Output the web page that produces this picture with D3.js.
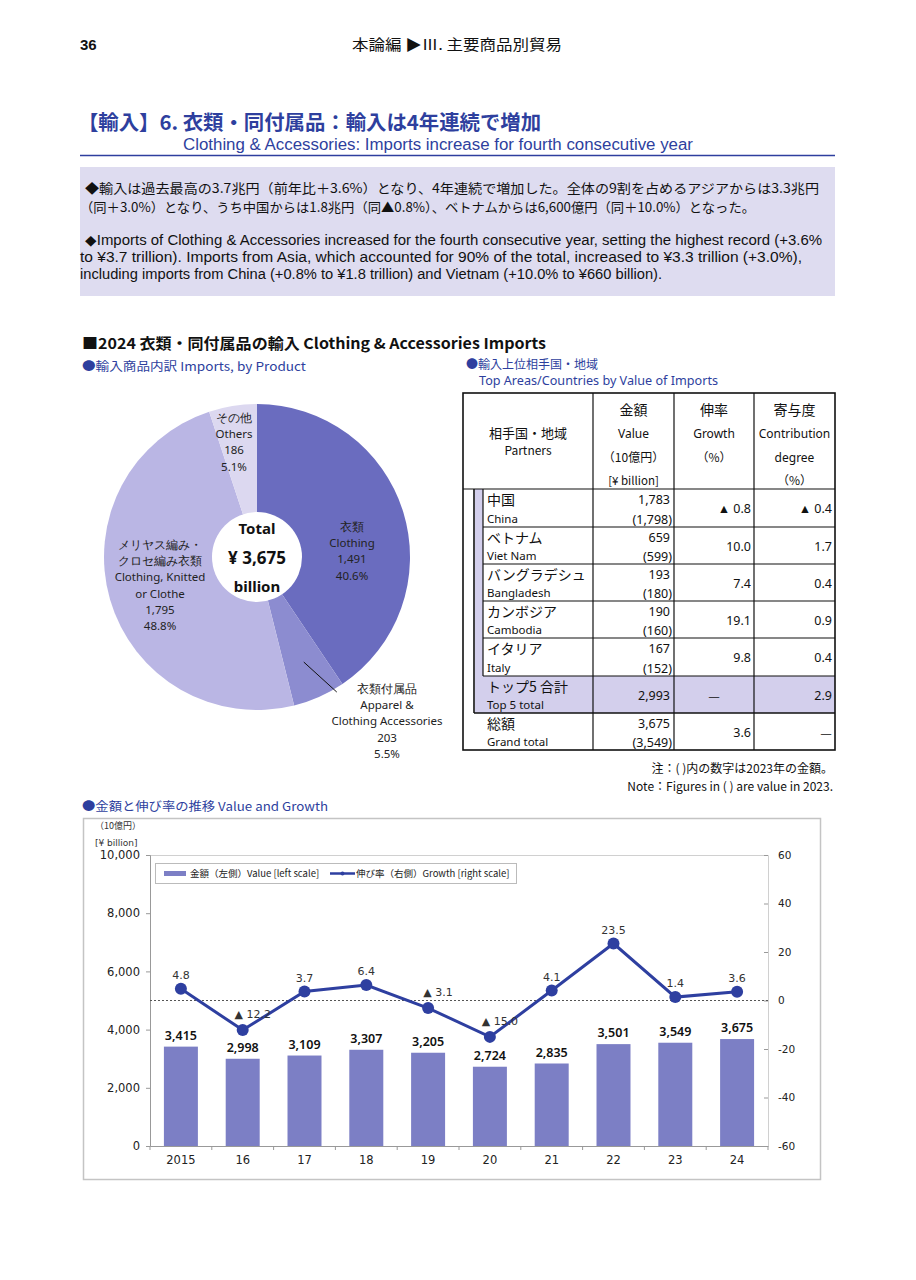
<!DOCTYPE html>
<html>
<head>
<meta charset="utf-8">
<script src="https://cdn.jsdelivr.net/npm/d3@7"></script>
<style>
  body { margin: 0; background: #fff; }
  svg text { font-family: "Noto Sans CJK JP", "Noto Sans", sans-serif; }
</style>
</head>
<body>
<svg id="page" width="916" height="1280"></svg>
<script>
// ---- data ----
const pieLabels = [
    ['衣類', 'Clothing'],
    ['衣類付属品', 'Apparel &', 'Clothing Accessories'],
    ['メリヤス編み・', 'クロセ編み衣類', 'Clothing, Knitted', 'or Clothe'],
    ['その他', 'Others']
];
const pieValues = [1491, 203, 1795, 186];
const pieShares = ['40.6%', '5.5%', '48.8%', '5.1%'];
const pieTotal = '3,675';

const partnersJa = ['中国', 'ベトナム', 'バングラデシュ', 'カンボジア', 'イタリア'];
const partnersEn = ['China', 'Viet Nam', 'Bangladesh', 'Cambodia', 'Italy'];
const partnerValue = [1783, 659, 193, 190, 167];
const partnerPrev = [1798, 599, 180, 160, 152];
const partnerGrowth = [-0.8, 10.0, 7.4, 19.1, 9.8];
const partnerContrib = [-0.4, 1.7, 0.4, 0.9, 0.4];
const top5Total = 2993;
const top5Contrib = 2.9;
const grandTotal = 3675;
const grandPrev = 3549;
const grandGrowth = 3.6;

const years = ['2015', '16', '17', '18', '19', '20', '21', '22', '23', '24'];
const importValue = [3415, 2998, 3109, 3307, 3205, 2724, 2835, 3501, 3549, 3675];
const growthRate = [4.8, -12.2, 3.7, 6.4, -3.1, -15.0, 4.1, 23.5, 1.4, 3.6];
const leftTicks = [0, 2000, 4000, 6000, 8000, 10000];
const rightTicks = [-60, -40, -20, 0, 20, 40, 60];

const blue = '#2e3f9e';
const narrow = '"Liberation Sans Narrow", "Arial Narrow", "Liberation Sans", sans-serif';

const svg = d3.select('#page');

function txt(x, y, s, o) {
    o = o || {};
    const t = svg.append('text')
        .attr('x', x).attr('y', y)
        .attr('text-anchor', o.anchor || 'start')
        .style('font-size', (o.size || 12) + 'px')
        .style('fill', o.color || '#111')
        .text(s);
    if (o.weight) t.style('font-weight', o.weight);
    if (o.family) t.style('font-family', o.family);
    if (o.len) t.attr('textLength', o.len).attr('lengthAdjust', 'spacingAndGlyphs');
    return t;
}

function fmtTri(v) {
    // negative numbers are shown with a black triangle
    return v < 0 ? '▲ ' + Math.abs(v).toFixed(1) : v.toFixed(1);
}

// ---- page header ----
txt(80, 50, '36', {size: 15, weight: 'bold', family: narrow});
txt(457, 50, '本論編 ▶Ⅲ. 主要商品別貿易', {size: 15, anchor: 'middle', len: 210});

txt(78, 130, '【輸入】6. 衣類・同付属品：輸入は4年連続で増加', {size: 20, weight: 'bold', color: blue, len: 463});
txt(183, 150, 'Clothing & Accessories: Imports increase for fourth consecutive year', {size: 16, color: blue, family: narrow, len: 510});
svg.append('line').attr('x1', 80).attr('x2', 835).attr('y1', 155.5).attr('y2', 155.5)
    .style('stroke', blue).style('stroke-width', 1.5);

// ---- summary box ----
svg.append('rect').attr('x', 80).attr('y', 167).attr('width', 755).attr('height', 129).style('fill', '#dedcf0');
txt(85, 193, '◆輸入は過去最高の3.7兆円（前年比＋3.6%）となり、4年連続で増加した。全体の9割を占めるアジアからは3.3兆円', {size: 13, len: 734});
txt(80, 212, '（同＋3.0%）となり、うち中国からは1.8兆円（同▲0.8%）、ベトナムからは6,600億円（同＋10.0%）となった。', {size: 13, len: 675});
txt(85, 245, '◆Imports of Clothing & Accessories increased for the fourth consecutive year, setting the highest record (+3.6%', {size: 14, family: narrow, len: 737});
txt(80, 262, 'to ¥3.7 trillion). Imports from Asia, which accounted for 90% of the total, increased to ¥3.3 trillion (+3.0%),', {size: 14, family: narrow, len: 722});
txt(80, 279, 'including imports from China (+0.8% to ¥1.8 trillion) and Vietnam (+10.0% to ¥660 billion).', {size: 14, family: narrow, len: 582});

// ---- section headings ----
txt(82, 349, '■2024  衣類・同付属品の輸入   Clothing & Accessories Imports', {size: 15, weight: 'bold', len: 464});
txt(82, 371, '●輸入商品内訳   Imports, by Product', {size: 12, color: blue, len: 224});
txt(466, 369, '●輸入上位相手国・地域', {size: 12, color: blue});
txt(479, 385, 'Top Areas/Countries by Value of Imports', {size: 12, color: blue, family: '"Noto Sans", sans-serif', len: 239});

// ---- pie ----
const pieColors = ['#6a6cbf', '#8c8cd0', '#bab6e4', '#dcd8f0'];
const cx = 257, cy = 557, rOuter = 153, rInner = 45;
const arcs = d3.pie().sort(null)(pieValues);
const arc = d3.arc().innerRadius(0).outerRadius(rOuter);
const pg = svg.append('g').attr('transform', `translate(${cx},${cy})`);
pg.selectAll('path').data(arcs).enter().append('path')
    .attr('d', arc)
    .style('fill', (d, i) => pieColors[i]);
pg.append('circle').attr('r', rInner).style('fill', '#fff');

const sans = '"Noto Sans", "Open Sans", sans-serif';
txt(cx, cy - 23, 'Total', {size: 15, weight: 'bold', anchor: 'middle', family: sans});
txt(cx, cy + 7, '¥ ' + pieTotal, {size: 17, weight: 'bold', anchor: 'middle', family: sans});
txt(cx, cy + 35, 'billion', {size: 15, weight: 'bold', anchor: 'middle', family: sans});

// label anchor positions (x, first baseline) for each slice
const labelPos = [[352, 531], [387, 693], [160, 549], [234, 422]];
pieLabels.forEach((lines, i) => {
    const all = lines.concat([d3.format(',')(pieValues[i]), pieShares[i]]);
    all.forEach((s, j) => {
        txt(labelPos[i][0], labelPos[i][1] + j * 16.2, s, {size: 11.5, anchor: 'middle', family: sans, color: '#222'});
    });
});
// leader line for the small accessories slice
const midA = (arcs[1].startAngle + arcs[1].endAngle) / 2;
pg.append('line')
    .attr('x1', Math.sin(midA) * (rOuter - 38)).attr('y1', -Math.cos(midA) * (rOuter - 38))
    .attr('x2', Math.sin(midA) * (rOuter - 38) + 33).attr('y2', -Math.cos(midA) * (rOuter - 38) + 30)
    .style('stroke', '#111').style('stroke-width', 1);

// ---- partner table ----
const tx = [463, 593, 674, 754, 835];
const rowY = [393, 489, 527, 564, 601, 638, 676, 713, 750];
const lav = '#d3cfec';
const tg = svg.append('g');
// shading
tg.append('rect').attr('x', 475).attr('y', rowY[1]).attr('width', 8).attr('height', rowY[6] - rowY[1]).style('fill', lav);
tg.append('rect').attr('x', 475).attr('y', rowY[6]).attr('width', 835 - 475).attr('height', rowY[7] - rowY[6]).style('fill', lav);

function tline(x1, y1, x2, y2, w) {
    tg.append('line').attr('x1', x1).attr('y1', y1).attr('x2', x2).attr('y2', y2)
        .style('stroke', '#111').style('stroke-width', w || 1.2);
}
tg.append('rect').attr('x', tx[0]).attr('y', rowY[0]).attr('width', tx[4] - tx[0]).attr('height', rowY[8] - rowY[0])
    .style('fill', 'none').style('stroke', '#111').style('stroke-width', 1.6);
[1, 2, 3].forEach(i => tline(tx[i], rowY[0], tx[i], rowY[8]));
tline(tx[0], rowY[1], tx[4], rowY[1]);
for (let i = 2; i <= 6; i++) tline(483, rowY[i], tx[4], rowY[i]);
tline(483, rowY[1], 483, rowY[6]);
tline(474, rowY[1], 474, rowY[7], 1.6);
tline(474, rowY[7], tx[4], rowY[7], 1.6);

// header cells
const hc = [(tx[1] + tx[2]) / 2, (tx[2] + tx[3]) / 2, (tx[3] + tx[4]) / 2];
txt(528, 438, '相手国・地域', {size: 13, anchor: 'middle'});
txt(528, 455, 'Partners', {size: 12, anchor: 'middle'});
txt(hc[0], 415, '金額', {size: 14, anchor: 'middle'});
txt(hc[0], 438, 'Value', {size: 12, anchor: 'middle', family: sans});
txt(hc[0], 462, '（10億円）', {size: 12, anchor: 'middle'});
txt(hc[0], 485, '[¥ billion]', {size: 11.5, anchor: 'middle'});
txt(hc[1], 415, '伸率', {size: 14, anchor: 'middle'});
txt(hc[1], 438, 'Growth', {size: 12, anchor: 'middle', family: sans});
txt(hc[1], 462, '（%）', {size: 12, anchor: 'middle'});
txt(hc[2], 415, '寄与度', {size: 14, anchor: 'middle'});
txt(hc[2], 438, 'Contribution', {size: 12, anchor: 'middle', family: sans});
txt(hc[2], 462, 'degree', {size: 12, anchor: 'middle', family: sans});
txt(hc[2], 485, '（%）', {size: 12, anchor: 'middle'});

const fmtN = d3.format(',');
function tableRow(top, bottom, ja, en, v, prev, g, c) {
    const mid = (top + bottom) / 2 + 5;
    txt(487, top + 16, ja, {size: 14});
    txt(487, bottom - 4, en, {size: 11.5, family: sans});
    if (prev === null) {
        txt(670, mid, v, {size: 12.5, anchor: 'end', family: sans});
    } else {
        txt(670, top + 15, v, {size: 12.5, anchor: 'end', family: sans});
        txt(672, bottom - 3, '(' + prev + ')', {size: 12.5, anchor: 'end', family: sans});
    }
    if (g === '—') txt(714, mid + 1, '—', {size: 13, anchor: 'middle'});
    else txt(751, mid, g, {size: 12.5, anchor: 'end', family: sans});
    if (c === '—') txt(826, mid + 1, '—', {size: 13, anchor: 'middle'});
    else txt(832, mid, c, {size: 12.5, anchor: 'end', family: sans});
}
partnersJa.forEach((ja, i) => {
    tableRow(rowY[i + 1], rowY[i + 2], ja, partnersEn[i], fmtN(partnerValue[i]), fmtN(partnerPrev[i]),
        fmtTri(partnerGrowth[i]), fmtTri(partnerContrib[i]));
});
tableRow(rowY[6], rowY[7], 'トップ5 合計', 'Top 5 total', fmtN(top5Total), null, '—', top5Contrib.toFixed(1));
tableRow(rowY[7], rowY[8], '総額', 'Grand total', fmtN(grandTotal), fmtN(grandPrev), grandGrowth.toFixed(1), '—');

txt(833, 773, '注：( )内の数字は2023年の金額。', {size: 12, anchor: 'end'});
txt(833, 791, 'Note：Figures in ( ) are value in 2023.', {size: 12, anchor: 'end'});

// ---- value & growth chart ----
txt(82, 811, '●金額と伸び率の推移   Value and Growth', {size: 12, color: blue, len: 246});
svg.append('rect').attr('x', 83.5).attr('y', 818.5).attr('width', 737).attr('height', 361)
    .style('fill', '#fff').style('stroke', '#c4c4c4').style('stroke-width', 1.5);
const verd = '"DejaVu Sans", Verdana, sans-serif';
txt(95, 829, '（10億円）', {size: 9, color: '#333'});
txt(95, 846, '[¥ billion]', {size: 9, color: '#333', family: verd});

const plot = {left: 150, right: 768, top: 855, bottom: 1146};
const x = d3.scaleBand().domain(years).range([plot.left, plot.right]).paddingInner(0.45).paddingOuter(0.225);
const yL = d3.scaleLinear().domain([0, 10000]).range([plot.bottom, plot.top]);
const yR = d3.scaleLinear().domain([-60, 60]).range([plot.bottom, plot.top]);

// plot frame (top and right edges)
svg.append('path')
    .attr('d', `M${plot.left},${plot.top + 0.5}H${plot.right + 0.5}V${plot.bottom}`)
    .style('fill', 'none').style('stroke', '#d0d0d0');

const gL = svg.append('g').attr('transform', `translate(${plot.left},0)`)
    .call(d3.axisLeft(yL).tickValues(leftTicks).tickSize(4).tickPadding(6).tickFormat(d3.format(',')));
const gR = svg.append('g').attr('transform', `translate(${plot.right},0)`)
    .call(d3.axisRight(yR).tickValues(rightTicks).tickSize(-4).tickPadding(10).tickFormat(d => String(d)));
const gB = svg.append('g').attr('transform', `translate(0,${plot.bottom})`)
    .call(d3.axisBottom(x).tickSize(0).tickPadding(10));
// category boundary ticks
const step = x.step();
svg.append('g').selectAll('line').data(d3.range(years.length + 1)).enter().append('line')
    .attr('x1', i => plot.left + i * step).attr('x2', i => plot.left + i * step)
    .attr('y1', plot.bottom).attr('y2', plot.bottom + 4)
    .style('stroke', '#999');

[gL, gR, gB].forEach(g => {
    g.selectAll('.domain').style('stroke', '#999');
    g.selectAll('.tick line').style('stroke', '#999');
    g.selectAll('text').style('font-family', verd).style('font-size', '11.5px').style('fill', '#222');
});
gR.select('.domain').remove();
gR.selectAll('text').style('font-size', '10.5px');

// bars
svg.append('g').selectAll('rect').data(importValue).enter().append('rect')
    .attr('x', (d, i) => x(years[i]))
    .attr('y', d => yL(d))
    .attr('width', x.bandwidth())
    .attr('height', d => yL(0) - yL(d))
    .style('fill', '#7c7fc5');
svg.append('g').selectAll('text').data(importValue).enter().append('text')
    .attr('x', (d, i) => x(years[i]) + x.bandwidth() / 2)
    .attr('y', d => yL(d) - 7)
    .attr('text-anchor', 'middle')
    .style('font-family', sans).style('font-size', '12.5px').style('font-weight', '600').style('fill', '#111')
    .text(d => fmtN(d));

// zero growth reference
svg.append('line').attr('x1', plot.left).attr('x2', plot.right)
    .attr('y1', yR(0)).attr('y2', yR(0))
    .style('stroke', '#555').style('stroke-dasharray', '2,2');

// growth line
const cxs = i => x(years[i]) + x.bandwidth() / 2;
svg.append('path').datum(growthRate)
    .attr('d', d3.line().x((d, i) => cxs(i)).y(d => yR(d)))
    .style('fill', 'none').style('stroke', '#2e3fa0').style('stroke-width', 3);
svg.append('g').selectAll('circle').data(growthRate).enter().append('circle')
    .attr('cx', (d, i) => cxs(i)).attr('cy', d => yR(d)).attr('r', 6)
    .style('fill', '#2e3fa0');
svg.append('g').selectAll('text').data(growthRate).enter().append('text')
    .attr('x', (d, i) => d < 0 ? cxs(i) + 10 : cxs(i))
    .attr('y', d => yR(d) - (d < 0 ? 12 : 10))
    .attr('text-anchor', 'middle')
    .style('font-family', verd).style('font-size', '11px').style('fill', '#333')
    .text(d => fmtTri(d));

// legend
const lg = svg.append('g');
lg.append('rect').attr('x', 155.5).attr('y', 863.5).attr('width', 361).attr('height', 20)
    .style('fill', '#fff').style('stroke', '#bbb');
lg.append('rect').attr('x', 164).attr('y', 871).attr('width', 22).attr('height', 5).style('fill', '#7c7fc5');
lg.append('text').attr('x', 190).attr('y', 877).style('font-size', '9.5px').style('fill', '#222')
    .text('金額（左側）Value [left scale]');
lg.append('line').attr('x1', 330).attr('x2', 355).attr('y1', 873.5).attr('y2', 873.5)
    .style('stroke', '#2e3fa0').style('stroke-width', 2.5);
lg.append('circle').attr('cx', 342.5).attr('cy', 873.5).attr('r', 2).style('fill', '#2e3fa0');
lg.append('text').attr('x', 356).attr('y', 877).style('font-size', '9.5px').style('fill', '#222')
    .text('伸び率（右側）Growth [right scale]');
</script>
</body>
</html>
